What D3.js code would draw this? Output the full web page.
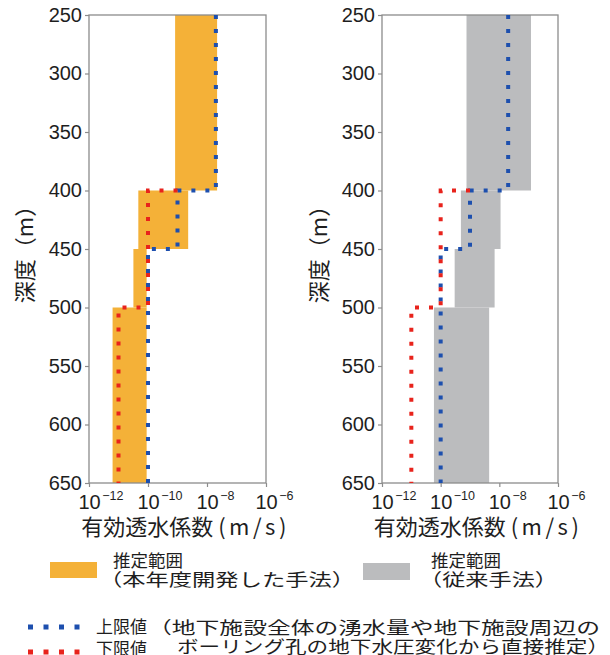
<!DOCTYPE html>
<html>
<head>
<meta charset="utf-8">
<script src="https://cdn.jsdelivr.net/npm/d3@7"></script>
<style>
  body { margin: 0; background: #fff; }
  svg { display: block; }
</style>
</head>
<body>
<svg id="chart" width="610" height="655"></svg>
<script>
// Depth intervals (m) shared by both panels
const depthEdges = [250, 400, 450, 500, 650];

// Estimated range of effective hydraulic conductivity (m/s), new method
const newMethodLow  = [8.3e-10, 4.7e-11, 3.2e-11, 6.3e-12];
const newMethodHigh = [2.2e-8, 2.3e-9, 9e-11, 9e-11];

// Estimated range, conventional method
const conventionalLow  = [7.6e-10, 4.9e-10, 3.0e-10, 5.9e-11];
const conventionalHigh = [1.2e-7, 1.1e-8, 6.9e-9, 4.5e-9];

// Upper bound (directly estimated): step values between depth breaks
const upperDepths = [250, 400, 450, 650];
const upperValues = [2e-8, 1e-9, 1e-10];

// Lower bound (directly estimated)
const lowerDepths = [400, 500, 650];
const lowerValues = [1e-10, 1e-11];

const depthTicks = [250, 300, 350, 400, 450, 500, 550, 600, 650];
const kTicks = [1e-12, 1e-10, 1e-8, 1e-6];
const kTickExponents = ["−12", "−10", "−8", "−6"];

const yTitle = "深度（m）";
const xTitle = "有効透水係数";
const xUnit = "(m/s)";

const COL_NEW = "#f4b138";
const COL_CONV = "#bbbcbe";
const COL_UP = "#1d4fae";
const COL_LOW = "#e8231c";
const COL_AXIS = "#8c8c8c";
const COL_TEXT = "#1e1e1e";
const NUM_FONT = "'Liberation Sans', Arial, sans-serif";
const JP_FONT = "'Noto Sans CJK JP', 'Noto Sans', sans-serif";

const svg = d3.select("#chart");
svg.append("rect").attr("width", 610).attr("height", 655).attr("fill", "#fff");

const y = d3.scaleLinear().domain([250, 650]).range([15, 483]);

// Step path for a bound line given its depth breaks and values
function stepPoints(depths, values, startK) {
  const pts = [];
  if (startK !== undefined) pts.push([startK, depths[0]]);
  values.forEach((v, i) => {
    pts.push([v, depths[i]]);
    pts.push([v, depths[i + 1]]);
  });
  return pts;
}

// the lower bound line starts from the upper bound at its first depth
const upperAt = d => upperValues[d3.bisectRight(upperDepths, d) - 1];
const upperPts = stepPoints(upperDepths, upperValues);
const lowerPts = stepPoints(lowerDepths, lowerValues, upperAt(lowerDepths[0]));

const panels = [
  { x0: 89, x1: 266, fill: COL_NEW, low: newMethodLow, high: newMethodHigh, titleX: 23 },
  { x0: 382, x1: 558, fill: COL_CONV, low: conventionalLow, high: conventionalHigh, titleX: 317 }
];

panels.forEach(p => {
  const x = d3.scaleLog().domain([1e-12, 1e-6]).range([p.x0, p.x1]);
  const g = svg.append("g");

  // estimated range blocks
  g.selectAll("rect.range")
    .data(p.low.map((lo, i) => ({ lo, hi: p.high[i], top: depthEdges[i], bot: depthEdges[i + 1] })))
    .join("rect")
    .attr("class", "range")
    .attr("x", d => x(d.lo))
    .attr("width", d => x(d.hi) - x(d.lo))
    .attr("y", d => y(d.top))
    .attr("height", d => y(d.bot) - y(d.top))
    .attr("fill", p.fill);

  // frame
  g.append("rect")
    .attr("x", p.x0).attr("y", y(250))
    .attr("width", p.x1 - p.x0).attr("height", y(650) - y(250))
    .attr("fill", "none").attr("stroke", COL_AXIS).attr("stroke-width", 1.3);

  // y axis
  const ya = g.append("g").attr("transform", `translate(${p.x0},0)`)
    .call(d3.axisLeft(y).tickValues(depthTicks).tickSize(4).tickPadding(3));
  ya.select(".domain").remove();
  ya.selectAll(".tick line").attr("stroke", COL_AXIS).attr("stroke-width", 1.2);
  ya.selectAll(".tick text").attr("font-family", NUM_FONT).attr("font-size", 20).attr("fill", COL_TEXT);

  // x axis with 10^n labels
  const xa = g.append("g").attr("transform", `translate(0,${y(650)})`)
    .call(d3.axisBottom(x).tickValues(kTicks).tickSize(4).tickFormat(() => ""));
  xa.select(".domain").remove();
  xa.selectAll(".tick line").attr("stroke", COL_AXIS).attr("stroke-width", 1.2);
  xa.selectAll(".tick text").remove();
  xa.selectAll(".tick").each(function (d, i) {
    const t = d3.select(this).append("text")
      .attr("y", 26).attr("font-family", NUM_FONT).attr("font-size", 20)
      .attr("fill", COL_TEXT).attr("text-anchor", "start");
    const base = t.append("tspan").text("10");
    const w = base.node().getComputedTextLength();
    t.attr("x", -w / 2);
    t.append("tspan").attr("dy", -9).attr("dx", 1.5).attr("font-size", 12.5).text(kTickExponents[i]);
  });

  // x axis title
  const xt = g.append("text")
    .attr("x", (p.x0 + p.x1) / 2 + 8).attr("y", 535)
    .attr("text-anchor", "middle").attr("font-family", JP_FONT)
    .attr("font-size", 22).attr("fill", COL_TEXT);
  xt.append("tspan").text(xTitle);
  xt.append("tspan").attr("dx", 5).attr("letter-spacing", 3.5).text(xUnit);

  // y axis title
  g.append("text")
    .attr("transform", `translate(${p.titleX},${(y(250) + y(650)) / 2}) rotate(-90)`)
    .attr("text-anchor", "middle").attr("dominant-baseline", "central")
    .attr("font-family", JP_FONT).attr("font-size", 22).attr("fill", COL_TEXT)
    .text(yTitle);

  // bound lines
  const line = d3.line().x(d => x(d[0])).y(d => y(d[1]));
  g.append("path").attr("d", line(upperPts))
    .attr("fill", "none").attr("stroke", COL_UP).attr("stroke-width", 4)
    .attr("stroke-dasharray", "4,10");
  g.append("path").attr("d", line(lowerPts))
    .attr("fill", "none").attr("stroke", COL_LOW).attr("stroke-width", 4)
    .attr("stroke-dasharray", "4,10");
});

// legend
const lg = svg.append("g");
lg.append("rect").attr("x", 50).attr("y", 562).attr("width", 47).attr("height", 16).attr("fill", COL_NEW);
lg.append("rect").attr("x", 363).attr("y", 563).attr("width", 47).attr("height", 17).attr("fill", COL_CONV);

function legendText(x, yc, str, size, len) {
  const t = lg.append("text").attr("x", x).attr("y", yc)
    .attr("dominant-baseline", "central")
    .attr("font-family", JP_FONT).attr("font-size", size).attr("fill", COL_TEXT)
    .text(str);
  if (len) t.attr("textLength", len).attr("lengthAdjust", "spacingAndGlyphs");
  return t;
}
legendText(113, 559.5, "推定範囲", 17.5);
legendText(99, 578, "（本年度開発した手法）", 17.5, 256);
legendText(431, 559.5, "推定範囲", 17.5);
legendText(419, 578, "（従来手法）", 17.5, 139);

lg.append("line").attr("x1", 28).attr("x2", 80).attr("y1", 627).attr("y2", 627)
  .attr("stroke", COL_UP).attr("stroke-width", 5).attr("stroke-dasharray", "5,10.5");
lg.append("line").attr("x1", 28).attr("x2", 80).attr("y1", 652).attr("y2", 652)
  .attr("stroke", COL_LOW).attr("stroke-width", 5).attr("stroke-dasharray", "5,10.5");
legendText(96, 625, "上限値", 17);
legendText(96, 647, "下限値", 17);
legendText(148, 626, "（地下施設全体の湧水量や地下施設周辺の", 17, 452);
legendText(177, 645, "ボーリング孔の地下水圧変化から直接推定）", 17, 432);
</script>
</body>
</html>
